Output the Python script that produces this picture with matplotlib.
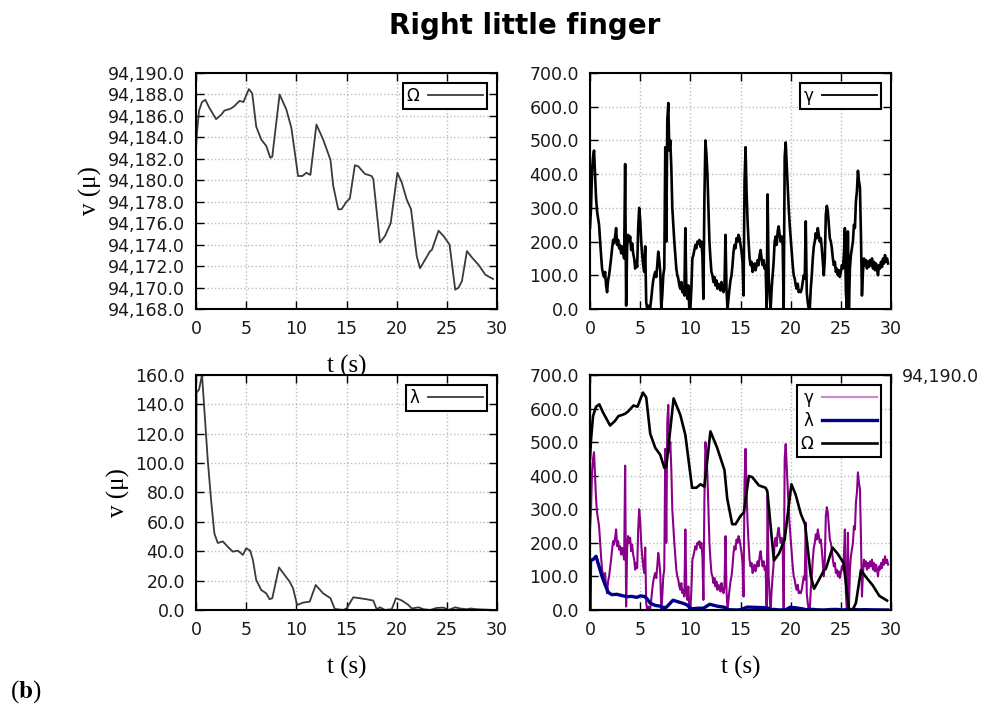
import numpy as np
import matplotlib
matplotlib.use("Agg")
import matplotlib.pyplot as plt
from matplotlib.ticker import MultipleLocator, StrMethodFormatter

plt.rcParams["mathtext.fontset"] = "stix"

# Omega (top-left, and black line on the twin axis bottom-right)
omega_t = [0.0, 0.1, 0.3, 0.6, 0.93, 1.3, 2.0, 2.5, 2.83, 3.2, 3.5, 3.8, 4.33, 4.73, 5.27,
           5.6, 6.0, 6.5, 7.0, 7.4, 7.6, 8.33, 9.0, 9.5, 10.17, 10.6, 11.0, 11.4, 12.0, 12.67,
           13.4, 13.67, 14.17, 14.5, 15.0, 15.33, 15.83, 16.17, 16.83, 17.5, 17.67, 18.33, 18.83,
           19.4, 20.07, 20.5, 21.0, 21.43, 22.0, 22.33, 22.83, 23.33, 23.5, 24.17, 24.67, 25.27,
           25.83, 26.17, 26.5, 27.0, 27.5, 28.17, 28.83, 29.6]
omega_v = [94182.9, 94184.5, 94186.5, 94187.3, 94187.5, 94186.8, 94185.7, 94186.1, 94186.5, 94186.6,
           94186.7, 94186.9, 94187.4, 94187.3, 94188.5, 94188.1, 94185.0, 94183.8, 94183.2, 94182.1,
           94182.2, 94188.0, 94186.6, 94184.9, 94180.4, 94180.4, 94180.7, 94180.5, 94185.2, 94183.8,
           94181.9, 94179.5, 94177.3, 94177.3, 94178.0, 94178.3, 94181.4, 94181.3, 94180.6, 94180.4,
           94180.1, 94174.2, 94174.8, 94176.0, 94180.7, 94179.8, 94178.2, 94177.3, 94172.9, 94171.8,
           94172.6, 94173.4, 94173.5, 94175.3, 94174.8, 94174.0, 94169.8, 94170.0, 94170.6, 94173.4,
           94172.8, 94172.1, 94171.2, 94170.8]

# lambda (bottom-left, navy line bottom-right)
lam_t = [0.0, 0.05, 0.3, 0.6, 1.17, 1.5, 1.83, 2.17, 2.67, 3.17, 3.67, 4.17, 4.67, 5.0, 5.4,
         5.67, 6.0, 6.5, 7.0, 7.33, 7.6, 8.27, 8.83, 9.33, 9.67, 10.07, 10.67, 11.33, 11.93, 12.67,
         13.4, 13.83, 14.67, 15.0, 15.67, 16.33, 17.0, 17.67, 18.0, 18.33, 18.83, 19.5, 19.93,
         20.5, 21.17, 21.5, 22.17, 22.67, 23.33, 24.0, 24.67, 25.17, 25.83, 26.33, 27.0, 27.33,
         28.0, 29.67]
lam_v = [0, 148, 150, 160, 102, 75, 52, 45.6, 46.7, 43, 39.7, 40.4, 37.5, 42, 40.4,
         34, 20.4, 13.6, 11.3, 7.3, 8, 29, 23.8, 19.3, 14.8, 3.4, 5, 5.7, 17, 11.3,
         8, 0.7, 0, 1, 8.6, 8, 7.3, 6.4, 0.5, 1.8, 0, 0.5, 8,
         6.5, 3.4, 1, 1.8, 0.5, 0, 1.4, 1.6, 0, 1.8, 1, 0.5, 1,
         0.5, 0]

# gamma (top-right, purple bottom-right), one value every 0.1 s
gamma_v = [
    240, 300, 410, 450, 470, 400, 330, 290, 270, 250,
    205, 160, 120, 105, 95, 110, 70, 50, 85, 100,
    125, 150, 180, 205, 195, 215, 240, 190, 205, 180,
    190, 165, 185, 170, 150, 430, 10, 185, 220, 200,
    215, 175, 195, 165, 150, 120, 140, 125, 240, 300,
    265, 200, 160, 130, 110, 186, 20, 0, 10, 0,
    5, 30, 60, 85, 100, 110, 95, 130, 170, 145,
    110, 0, 40, 100, 120, 480, 200, 560, 611, 470,
    500, 420, 300, 250, 200, 160, 120, 100, 90, 70,
    60, 80, 50, 60, 40, 240, 55, 30, 70, 0,
    0, 60, 150, 160, 175, 190, 180, 200, 195, 205,
    185, 200, 160, 30, 330, 500, 460, 400, 300, 200,
    150, 110, 100, 80, 95, 70, 85, 60, 75, 70,
    55, 80, 60, 50, 70, 220, 60, 0, 30, 60,
    85, 100, 130, 170, 190, 180, 210, 200, 220, 210,
    190, 170, 140, 40, 380, 480, 350, 260, 200, 150,
    130, 140, 110, 120, 135, 115, 130, 145, 130, 160,
    175, 150, 130, 145, 120, 130, 0, 340, 100, 40,
    0, 60, 100, 140, 200, 215, 190, 230, 245, 220,
    200, 215, 190, 0, 450, 494, 430, 360, 300, 250,
    210, 170, 130, 100, 90, 70, 60, 75, 50, 55,
    50, 60, 80, 100, 90, 260, 50, 20, 0, 0,
    60, 100, 150, 185, 200, 225, 210, 240, 220, 200,
    210, 180, 140, 100, 150, 280, 306, 290, 250, 210,
    200, 180, 150, 130, 140, 110, 120, 100, 115, 95,
    110, 130, 120, 160, 240, 50, 0, 230, 0, 120,
    160, 180, 200, 250, 240, 320, 350, 410, 380, 360,
    220, 40, 110, 150, 130, 145, 120, 140, 125, 145,
    130, 150, 120, 140, 115, 135, 120, 100, 130, 120,
    140, 125, 150, 135, 160, 140, 150, 135,
]
gamma_t = np.arange(len(gamma_v)) * 0.1

serif = "Liberation Serif"
TICK_FS = 12.5


def style(ax, ymin, ymax, ystep):
    ax.set_xlim(0, 30)
    ax.set_ylim(ymin, ymax)
    ax.xaxis.set_major_locator(MultipleLocator(5))
    ax.yaxis.set_major_locator(MultipleLocator(ystep))
    ax.yaxis.set_major_formatter(StrMethodFormatter("{x:,.1f}"))
    ax.tick_params(direction="in", top=True, right=True, length=6, width=1,
                   labelsize=TICK_FS, pad=8, labelcolor="#1a1a1a")
    ax.grid(True, ls=":", color="#bdbdbd", lw=1)
    for s in ax.spines.values():
        s.set_linewidth(1.5)


def box_legend(ax, handles=None, labels=None):
    kw = dict(loc="upper right", markerfirst=False, fancybox=False, edgecolor="black",
              framealpha=1, fontsize=12, handlelength=3.3, borderpad=0.25,
              borderaxespad=0.6, handletextpad=0.5, labelspacing=0.3)
    if handles is None:
        leg = ax.legend(**kw)
    else:
        leg = ax.legend(handles, labels, **kw)
    leg.get_frame().set_linewidth(1.5)
    return leg


fig = plt.figure(figsize=(9.86, 7.13), dpi=100)
W, H = 0.3053, 0.331
ax_tl = fig.add_axes([0.1988, 0.5666, W, H])
ax_tr = fig.add_axes([0.5984, 0.5666, W, H])
ax_bl = fig.add_axes([0.1988, 0.1445, W, 0.3296])
ax_br = fig.add_axes([0.5984, 0.1445, W, 0.3296])

# top-left: Omega
ax_tl.plot(omega_t, omega_v, color="#3a3a3a", lw=1.3, label="Ω")
style(ax_tl, 94168, 94190, 2)
box_legend(ax_tl)
ax_tl.set_xlabel("t (s)", fontfamily=serif, fontsize=18, labelpad=12)
ax_tl.set_ylabel("v (μ)", fontfamily=serif, fontsize=18)
ax_tl.yaxis.set_label_coords(-0.312, 0.5)

# top-right: gamma
ax_tr.plot(gamma_t, gamma_v, color="black", lw=1.9, label="γ")
style(ax_tr, 0, 700, 100)
box_legend(ax_tr)
ax_tr.get_legend().get_lines()[0].set_linewidth(1.3)

# bottom-left: lambda
ax_bl.plot(lam_t, lam_v, color="#3a3a3a", lw=1.3, label="λ")
style(ax_bl, 0, 160, 20)
box_legend(ax_bl)
ax_bl.set_xlabel("t (s)", fontfamily=serif, fontsize=18, labelpad=12)
ax_bl.set_ylabel("v (μ)", fontfamily=serif, fontsize=18)
ax_bl.yaxis.set_label_coords(-0.219, 0.5)

# bottom-right: all three, Omega on a twin axis
h1, = ax_br.plot(gamma_t, gamma_v, color="#8b008b", lw=1.5, label="γ")
h2, = ax_br.plot(lam_t, lam_v, color="#00008b", lw=2.4, label="λ")
style(ax_br, 0, 700, 100)
ax_br.set_xlabel("t (s)", fontfamily=serif, fontsize=18, labelpad=12)
ax2 = ax_br.twinx()
h3, = ax2.plot(omega_t, omega_v, color="black", lw=1.9, label="Ω")
ax2.set_ylim(94170, 94190)
ax2.set_yticks([94190])
ax2.yaxis.set_major_formatter(StrMethodFormatter("{x:,.1f}"))
ax2.tick_params(direction="in", length=6, width=1, labelsize=TICK_FS, pad=8,
                labelcolor="#1a1a1a")
for s in ax2.spines.values():
    s.set_linewidth(1.5)
leg = box_legend(ax2, [h1, h2, h3], ["γ", "λ", "Ω"])
leg.get_lines()[0].set_color("#cc88cc")

fig.text(0.5325, 0.952, "Right little finger", ha="center", va="baseline",
         fontsize=20, fontweight="bold")
fig.text(0.010, 0.022, r"($\mathbf{b}$)", ha="left", va="baseline",
         fontfamily=serif, fontsize=18)

fig.savefig("out.png", dpi=100)
